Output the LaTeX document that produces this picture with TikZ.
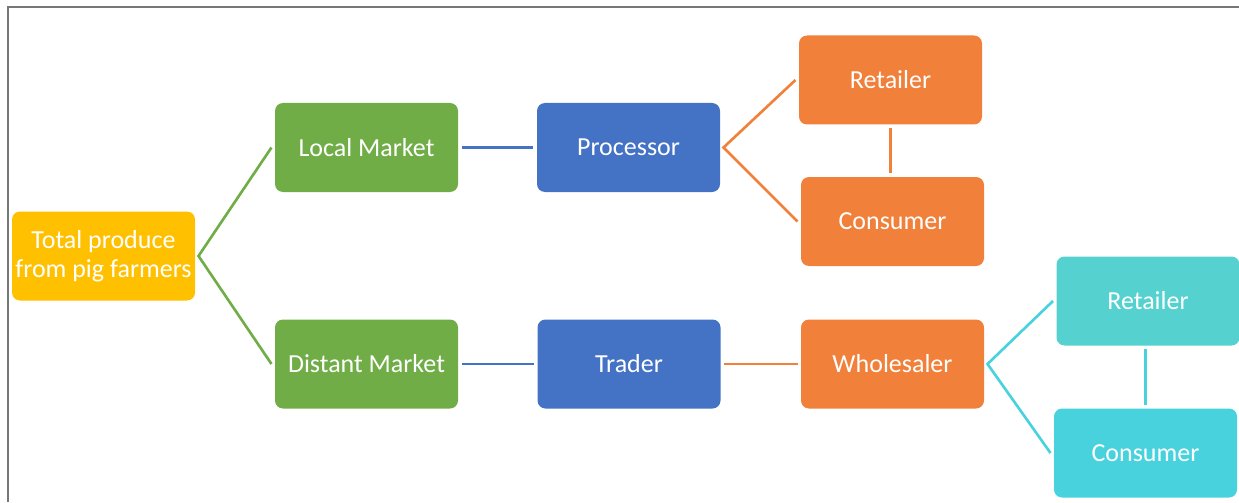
\documentclass[tikz,border=0pt]{standalone}
\usepackage{fontspec}
\setmainfont{Carlito}
\usetikzlibrary{positioning}
\definecolor{cyellow}{HTML}{FFC000}
\definecolor{cgreen}{HTML}{70AD47}
\definecolor{cblue}{HTML}{4472C4}
\definecolor{corange}{HTML}{F0803A}
\definecolor{cteal}{HTML}{55D1CF}
\definecolor{ccyan}{HTML}{48D2DE}
\definecolor{cframe}{HTML}{777777}
\begin{document}
\begin{tikzpicture}[on grid,
		box/.style={rounded corners=0.16cm, minimum width=3.66cm, minimum height=1.78cm,
			inner sep=0pt, outer sep=2pt, align=center, text=white,
			font=\fontsize{14.8}{16.8}\selectfont},
		link/.style={line width=1.5pt}]
		\useasboundingbox (0,0) rectangle (24.78,10.04);
		\draw[cframe, line width=1.2pt] (0.16,0) -- (0.16,9.9) -- (24.78,9.9);
		\node (total) [box, fill=cyellow] at (2.07,4.92) {Total produce\\from pig farmers};
		\node (local) [box, fill=cgreen, above right=2.17cm and 5.26cm of total] {Local Market};
		\node (distant) [box, fill=cgreen, below right=2.16cm and 5.26cm of total] {Distant Market};
		\node (proc) [box, fill=cblue, right=5.24cm of local] {Processor};
		\node (trader) [box, fill=cblue, right=5.25cm of distant] {Trader};
		\node (ret1) [box, fill=corange, above right=1.35cm and 5.24cm of proc] {Retailer};
		\node (con1) [box, fill=corange, below right=1.48cm and 5.28cm of proc] {Consumer};
		\node (whole) [box, fill=corange, right=5.27cm of trader] {Wholesaler};
		\node (ret2) [box, fill=cteal, above right=1.26cm and 5.11cm of whole] {Retailer};
		\node (con2) [box, fill=ccyan, below right=1.78cm and 5.06cm of whole] {Consumer};
		\draw[link, cgreen] (local.west) -- (total.east) -- (distant.west);
		\draw[link, cblue] (local) -- (proc);
		\draw[link, cblue] (distant) -- (trader);
		\draw[link, corange] (ret1.west) -- (proc.east) -- (con1.west);
		\draw[link, corange] (ret1.south) -- (ret1.south |- con1.north);
		\draw[link, corange] (trader) -- (whole);
		\draw[link, ccyan] (ret2.west) -- (whole.east) -- (con2.west);
		\draw[link, ccyan] (ret2.south -| con2.north) -- (con2.north);
\end{tikzpicture}
\end{document}
